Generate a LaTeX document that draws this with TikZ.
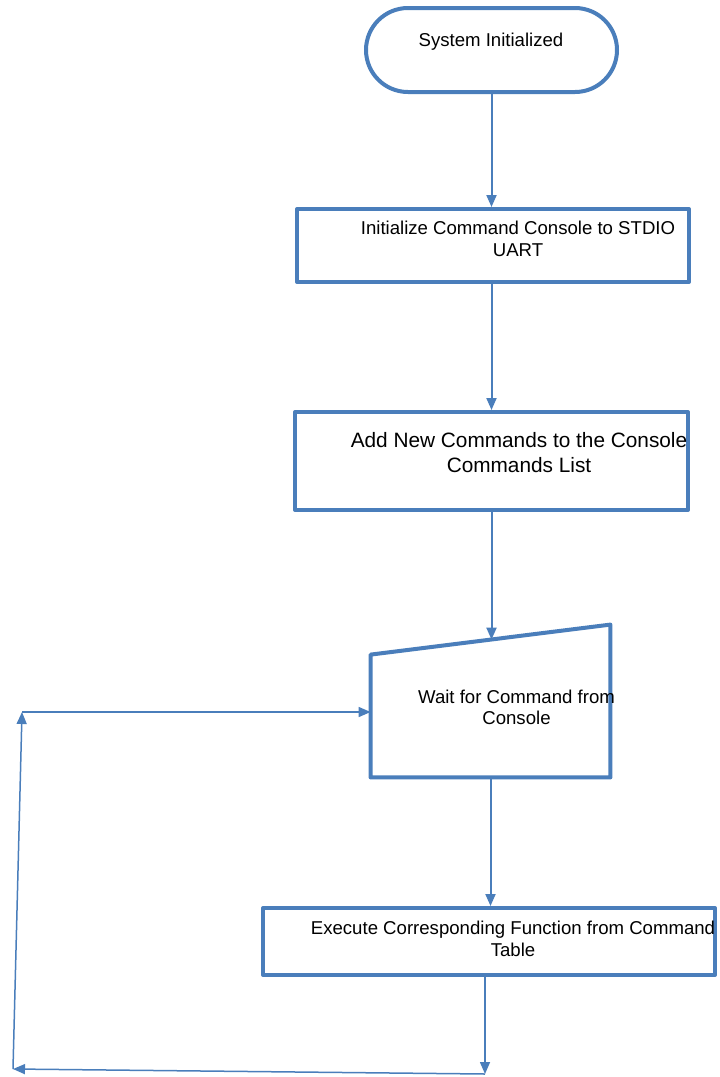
\documentclass[tikz,border=0pt]{standalone}
\usepackage{fontspec}
\setmainfont{Liberation Sans}
\usetikzlibrary{arrows.meta,calc}
\definecolor{flowblue}{RGB}{74,126,187}

\begin{document}
\begin{tikzpicture}[x=0.5pt,y=-0.5pt,>={Triangle[length=6pt,width=5pt]},
  term/.style={draw=flowblue,line width=2pt,rounded corners=21pt,minimum width=125.5pt,minimum height=42pt},
  procbox/.style={draw=flowblue,line width=2pt,line join=round,inner sep=0pt},
  txt/.style={font=\fontsize{9.3}{11}\selectfont,align=center,inner sep=0pt},
  conn/.style={draw=flowblue,line width=1pt},
  back/.style={draw=flowblue,line width=0.75pt}]
  \useasboundingbox (0,0) rectangle (719,1077);

  % shapes
  \node[term] (start) at (491.5,50) {};
  \node[procbox,minimum width=196pt,minimum height=36.5pt] (init) at (493,245.5) {};
  \node[procbox,minimum width=196.5pt,minimum height=49pt] (add) at (491.5,461) {};
  \node[inner sep=0pt,minimum width=119.5pt,minimum height=76pt] (wait) at (490.5,701) {};
  \node[procbox,minimum width=226pt,minimum height=33.5pt] (exec) at (489,941.5) {};

  % manual input
  \draw[flowblue,line width=2pt,line join=round]
  (wait.south west) -- (wait.south east) -- (wait.north east) -- ($(wait.north west)+(0,30)$) -- cycle;
  \coordinate (waittop) at ($(wait.north)+(0,15)$);

  % labels
  \node[txt] (startlbl) at (491,42) {System Initialized};
  \node[txt] (initlbl) at (518,239) {Initialize Command Console to STDIO\\UART};
  \node[txt,font=\fontsize{10.4}{12.5}\selectfont] (addlbl) at (519,452.5) {Add New Commands to the Console\\Commands List};
  \node[txt,font=\fontsize{9.3}{10.5}\selectfont] (waitlbl) at (516.5,707.5) {Wait for Command from\\Console};
  \node[txt] (execlbl) at (513,939) {Execute Corresponding Function from Command\\Table};

  % arrows
  \draw[conn,->] (start.south) -- (start.south |- init.north);
  \draw[conn,->] (add.north |- init.south) -- (add.north);
  \draw[conn,->] (add.south) -- (add.south |- waittop);
  \draw[conn,->] (wait.south) -- (wait.south |- exec.north);

  % loop back
  \coordinate (loopbr) at (485,1074);
  \coordinate (loopbl) at (13,1069);
  \coordinate (looptl) at (22,712);
  \draw[back,->] (exec.south -| loopbr) -- (loopbr);
  \draw[back,->] (loopbr) -- (loopbl);
  \draw[back,->] (loopbl) -- (looptl);
  \draw[back,->] (looptl) -- (looptl -| wait.west);
\end{tikzpicture}
\end{document}
